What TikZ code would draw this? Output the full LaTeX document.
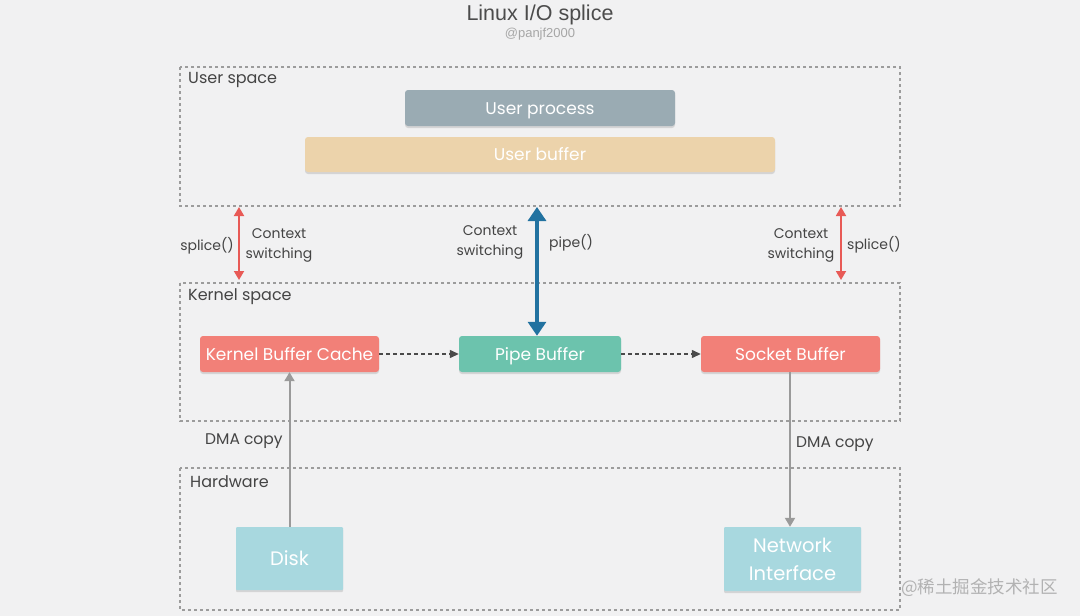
\documentclass[tikz,border=0pt]{standalone}
\usepackage{fontspec}
\setmainfont{Poppins}
\newfontfamily\titlefont{Liberation Sans}
\newfontfamily\cjkfont{Noto Sans CJK SC}
\usetikzlibrary{arrows.meta,shadows}
\definecolor{bg}{HTML}{F1F1F2}
\definecolor{frame}{HTML}{9C9C9C}
\definecolor{txt}{HTML}{444444}
\definecolor{procc}{HTML}{9AABB3}
\definecolor{bufc}{HTML}{ECD3AB}
\definecolor{kernc}{HTML}{F28078}
\definecolor{pipec}{HTML}{6CC3AD}
\definecolor{hwc}{HTML}{A8D8DF}
\definecolor{redarr}{HTML}{E85A56}
\definecolor{bluearr}{HTML}{2272A0}
\definecolor{grayarr}{HTML}{9A9A9A}
\definecolor{dasharr}{HTML}{4A4A4A}
\tikzset{
  region/.style={draw=frame, line width=1.6pt, dash pattern=on 3pt off 3pt},
  regionlabel/.style={anchor=west, text=txt, font=\fontsize{16}{18}\selectfont, inner sep=0pt},
  blkbase/.style={rounded corners=3pt, text=white, font=\fontsize{17}{20}\selectfont, inner sep=0pt,
    drop shadow={opacity=0.25, shadow xshift=0pt, shadow yshift=-2pt}},
  blk/.style={blkbase, text height=12.5pt, text depth=0pt},
  hwblk/.style={blkbase, rounded corners=1pt, fill=hwc, font=\fontsize{19.5}{28}\selectfont},
  lbl/.style={text=txt, font=\fontsize{14}{20}\selectfont, inner sep=0pt, align=center},
  dmalbl/.style={lbl, font=\fontsize{15.5}{18}\selectfont, anchor=west},
  ctx/.style={{Triangle[length=9pt,width=10pt]}-{Triangle[length=9pt,width=10pt]}},
}
\begin{document}
\begin{tikzpicture}[x=1pt,y=-1pt]
\fill[bg] (0,0) rectangle (1080,616);
\useasboundingbox (0,0) rectangle (1080,616);
% title
\node[text=black!70, font=\titlefont\fontsize{21.5}{24}\selectfont] (title) at (540,15) {Linux I/O splice};
\node[text=black!35, font=\titlefont\fontsize{13}{15}\selectfont] (author) at (540,34) {@panjf2000};
% regions
\draw[region] (180,67) rectangle (900,206);
\node[regionlabel] (uslbl) at (188,80) {User space};
\draw[region] (180,283) rectangle (900,421);
\node[regionlabel] (kslbl) at (188,297) {Kernel space};
\draw[region] (180,468) rectangle (900,610);
\node[regionlabel] (hwlbl) at (190,482) {Hardware};
% blocks
\node[blk, fill=procc, minimum width=270pt, minimum height=36pt] (proc) at (540,108) {User process};
\node[blk, fill=bufc, minimum width=470pt, minimum height=35pt] (ubuf) at (540,154.5) {User buffer};
\node[blk, fill=kernc, minimum width=179pt, minimum height=36pt] (kbc) at (289.5,354) {Kernel Buffer Cache};
\node[blk, fill=pipec, minimum width=162pt, minimum height=36pt] (pipe) at (540,354) {Pipe Buffer};
\node[blk, fill=kernc, minimum width=179pt, minimum height=36pt] (sock) at (790.5,354) {Socket Buffer};
\node[hwblk, minimum width=107pt, minimum height=63pt, text height=14pt, text depth=0pt] (disk) at (289.5,558.5) {Disk};
\node[hwblk, minimum width=137pt, minimum height=64pt, align=center] (nic) at (792.5,559) {Network\\Interface};
% dashed arrows
\draw[dasharr, line width=1.3pt, dash pattern=on 4pt off 3pt, -{Triangle[length=9pt,width=8pt]}] (kbc) -- (pipe);
\draw[dasharr, line width=1.3pt, dash pattern=on 4pt off 3pt, -{Triangle[length=9pt,width=8pt]}] (pipe) -- (sock);
% DMA arrows
\draw[grayarr, line width=2pt, -{Triangle[length=9pt,width=10pt]}] (disk.north) -- (disk.north |- kbc.south);
\draw[grayarr, line width=2pt, -{Triangle[length=9pt,width=10pt]}] (790,372) coordinate (sockbot) -- (sockbot |- nic.north);
\node[dmalbl] (dma1) at (205,441) {DMA copy};
\node[dmalbl] (dma2) at (796,444) {DMA copy};
% context switching arrows
\coordinate (l1) at (239,207); \coordinate (l2) at (239,280);
\draw[redarr, line width=1.8pt, ctx] (l1) -- (l2);
\node[lbl, anchor=east] (sp1) at (234,246) {splice()};
\node[lbl] (cs1) at (279,245.5) {Context\\switching};
\coordinate (r1) at (841,207); \coordinate (r2) at (841,280);
\draw[redarr, line width=1.8pt, ctx] (r1) -- (r2);
\node[lbl, anchor=west] (sp2) at (847,245) {splice()};
\node[lbl] (cs2) at (801,245.5) {Context\\switching};
\coordinate (b1) at (537,207);
\draw[bluearr, line width=3.2pt, {Triangle[length=14pt,width=18pt]}-{Triangle[length=14pt,width=18pt]}] (b1) -- (b1 |- pipe.north);
\node[lbl] (cs3) at (490,242.5) {Context\\switching};
\node[lbl, anchor=west] (pp) at (549,243) {pipe()};
% watermark
\node[text=black!30, font=\cjkfont\fontsize{17.5}{20}\selectfont, anchor=west, inner sep=0pt] (wm) at (901,588) {@稀土掘金技术社区};
\end{tikzpicture}
\end{document}
